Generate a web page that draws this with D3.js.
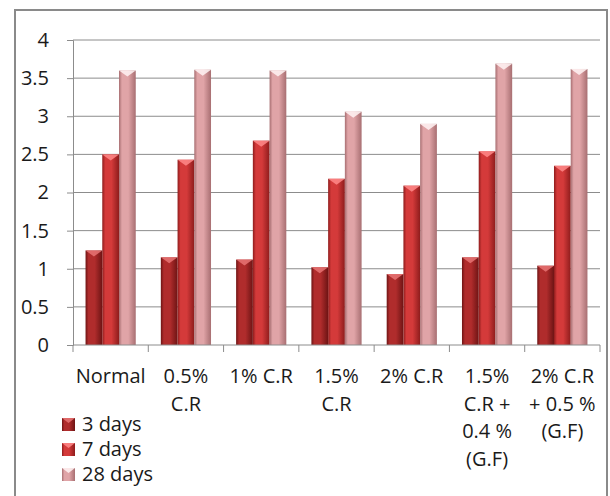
<!DOCTYPE html>
<html>
<head>
<meta charset="utf-8">
<script src="https://cdn.jsdelivr.net/npm/d3@7/dist/d3.min.js"></script>
<style>
  html, body { margin: 0; padding: 0; background: #fff; }
  svg { display: block; }
  text { font-family: "Open Sans", "Noto Sans", sans-serif; fill: #1a1a1a; }
</style>
</head>
<body>
<svg id="chart" width="610" height="496"></svg>
<script>
// Compressive strength by mix and curing age
const categories = ["Normal", "0.5% C.R", "1% C.R", "1.5% C.R", "2% C.R", "1.5% C.R + 0.4 % (G.F)", "2% C.R + 0.5 % (G.F)"];
const categoryLines = [
  ["Normal"],
  ["0.5%", "C.R"],
  ["1% C.R"],
  ["1.5%", "C.R"],
  ["2% C.R"],
  ["1.5%", "C.R +", "0.4 %", "(G.F)"],
  ["2% C.R", "+ 0.5 %", "(G.F)"]
];
const seriesNames = ["3 days", "7 days", "28 days"];
const days3  = [1.24, 1.15, 1.12, 1.02, 0.93, 1.15, 1.04];
const days7  = [2.50, 2.43, 2.68, 2.18, 2.09, 2.54, 2.35];
const days28 = [3.60, 3.61, 3.60, 3.06, 2.90, 3.69, 3.62];
const yTicks = [0, 0.5, 1, 1.5, 2, 2.5, 3, 3.5, 4];
const yTickLabels = ["0", "0.5", "1", "1.5", "2", "2.5", "3", "3.5", "4"];

const seriesValues = [days3, days7, days28];
const palette = [
  { edge: "#6e1414", mid: "#b02c2c", cap: "#e87474" },
  { edge: "#8e1c1c", mid: "#d43a3a", cap: "#ff8a8a" },
  { edge: "#a86f72", mid: "#e0a4a7", cap: "#fff4f4" }
];

const svg = d3.select("#chart");
const plot = { left: 73, right: 600, top: 40, bottom: 345 };

// Outer chart frame
svg.append("rect")
  .attr("x", 15).attr("y", 10)
  .attr("width", 592).attr("height", 520)
  .attr("fill", "#fff")
  .attr("stroke", "#8a8a8a").attr("stroke-width", 2);

// Gradients giving each bar a rounded, lit look
const defs = svg.append("defs");
palette.forEach((p, i) => {
  const g = defs.append("linearGradient")
    .attr("id", "grad" + i)
    .attr("x1", "0%").attr("x2", "100%").attr("y1", "0%").attr("y2", "0%");
  g.append("stop").attr("offset", "0%").attr("stop-color", p.edge);
  g.append("stop").attr("offset", "18%").attr("stop-color", p.mid);
  g.append("stop").attr("offset", "55%").attr("stop-color", p.mid);
  g.append("stop").attr("offset", "100%").attr("stop-color", p.edge);
});

const x = d3.scaleBand().domain(categories).range([plot.left, plot.right]).padding(0);
const xs = d3.scaleBand().domain(seriesNames)
  .range([x.bandwidth() / 6, x.bandwidth() * 5 / 6]).padding(0);
const y = d3.scaleLinear().domain([0, 4]).range([plot.bottom, plot.top]);

// Horizontal gridlines
svg.append("g").selectAll("line")
  .data(yTicks.filter(d => d > 0))
  .join("line")
  .attr("x1", plot.left).attr("x2", plot.right)
  .attr("y1", d => y(d)).attr("y2", d => y(d))
  .attr("stroke", "#8c8c8c").attr("stroke-width", 1);

// Y axis
const yAxis = svg.append("g")
  .attr("transform", `translate(${plot.left},0)`)
  .call(d3.axisLeft(y).tickValues(yTicks).tickFormat((d, i) => yTickLabels[i]).tickSize(6).tickPadding(18));
yAxis.select(".domain").attr("stroke", "#8c8c8c");
yAxis.selectAll(".tick line").attr("stroke", "#8c8c8c");
yAxis.selectAll(".tick text")
  .attr("font-size", 20).attr("font-family", "Open Sans").attr("fill", "#1a1a1a");

// Bars
const groups = svg.append("g").selectAll("g")
  .data(categories)
  .join("g")
  .attr("transform", d => `translate(${x(d)},0)`);

seriesNames.forEach((s, si) => {
  const bw = xs.bandwidth();
  groups.append("rect")
    .attr("x", xs(s))
    .attr("y", (d, ci) => y(seriesValues[si][ci]))
    .attr("width", bw)
    .attr("height", (d, ci) => y(0) - y(seriesValues[si][ci]))
    .attr("fill", `url(#grad${si})`);
  // bevelled top face
  groups.append("path")
    .attr("d", (d, ci) => {
      const t = y(seriesValues[si][ci]);
      const x0 = xs(s), x1 = xs(s) + bw;
      return `M${x0},${t}L${x1},${t}L${x0 + bw / 2},${t + 6}Z`;
    })
    .attr("fill", palette[si].cap)
    .attr("opacity", 0.85);
});

// X axis
const xAxis = svg.append("g")
  .attr("transform", `translate(0,${plot.bottom})`);
xAxis.append("line")
  .attr("x1", plot.left).attr("x2", plot.right)
  .attr("stroke", "#8c8c8c");
xAxis.selectAll("line.tick")
  .data(d3.range(categories.length + 1))
  .join("line")
  .attr("class", "tick")
  .attr("x1", i => plot.left + i * x.bandwidth())
  .attr("x2", i => plot.left + i * x.bandwidth())
  .attr("y1", 0).attr("y2", 7)
  .attr("stroke", "#8c8c8c");

// Category labels
const labels = svg.append("g").selectAll("text")
  .data(categories)
  .join("text")
  .attr("text-anchor", "middle")
  .attr("font-size", 20)
  .attr("x", d => x(d) + x.bandwidth() / 2)
  .attr("y", 383);
labels.each(function (d, i) {
  d3.select(this).selectAll("tspan")
    .data(categoryLines[i])
    .join("tspan")
    .attr("x", x(d) + x.bandwidth() / 2)
    .attr("dy", (t, j) => j === 0 ? 0 : 27.5)
    .text(t => t);
});

// Legend
const legend = svg.append("g").selectAll("g")
  .data(seriesNames)
  .join("g")
  .attr("transform", (d, i) => `translate(62,${418 + i * 25})`);
legend.append("rect")
  .attr("width", 13).attr("height", 13)
  .attr("fill", (d, i) => `url(#grad${i})`);
legend.append("path")
  .attr("d", "M0,0L13,0L6.5,5Z")
  .attr("fill", (d, i) => palette[i].cap)
  .attr("opacity", 0.85);
legend.append("text")
  .attr("x", 20).attr("y", 13)
  .attr("font-size", 20)
  .text(d => d);
</script>
</body>
</html>
